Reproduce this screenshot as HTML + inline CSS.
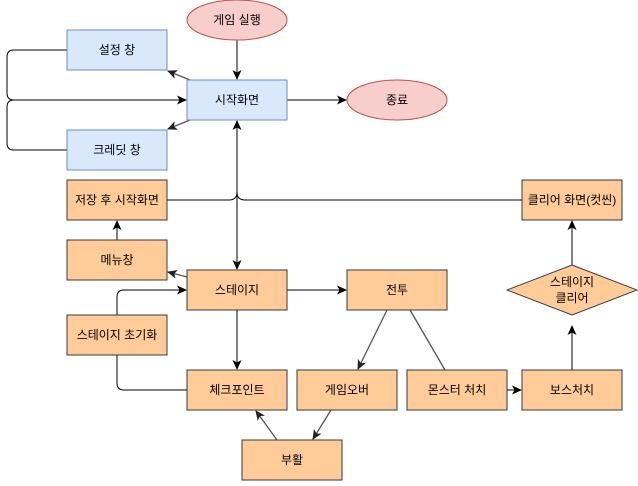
<!DOCTYPE html>
<html><head><meta charset="utf-8"><style>
body{margin:0;background:#fff}
text{font-family:"Liberation Sans","Noto Sans CJK KR",sans-serif;font-size:12px;fill:#000;text-anchor:middle;dominant-baseline:central}
</style></head><body>
<svg width="638" height="481" viewBox="0 0 638 481" xmlns="http://www.w3.org/2000/svg">
<defs>
<marker id="a" markerWidth="12" markerHeight="12" refX="10" refY="6" orient="auto" markerUnits="userSpaceOnUse"><path d="M1,1.5 L11,6 L1,10.5 L3.5,6z" fill="#000"/></marker>
<marker id="g" markerWidth="12" markerHeight="12" refX="10" refY="6" orient="auto" markerUnits="userSpaceOnUse"><path d="M1,1.5 L11,6 L1,10.5 L3.5,6z" fill="#222"/></marker>
</defs>
<g fill="none" stroke="#000" stroke-width="1">
<path d="M237,40 V79" marker-end="url(#a)"/>
<path d="M287,100 H346" marker-end="url(#a)"/>
<path d="M67,50 H14 Q7,50 7,57 V93 Q7,100 14,100 H186" marker-end="url(#a)"/>
<path d="M67,150 H14 Q7,150 7,143 V107 Q7,100 14,100"/>
<path d="M237,200 V121" marker-end="url(#a)"/>
<path d="M237,200 V269" marker-end="url(#a)"/>
<path d="M167,200 H229 Q237,200 237,192 Q237,200 245,200 H522"/>
<path d="M117,240 V221" marker-end="url(#a)"/>
<path d="M237,310 V369" marker-end="url(#a)"/>
<path d="M287,290 H346" marker-end="url(#a)"/>
<path d="M187,390 H124 Q117,390 117,383 V355"/>
<path d="M117,315 V297 Q117,290 124,290 H186" marker-end="url(#a)"/>
<path d="M507,390 H521" marker-end="url(#a)"/>
<path d="M572,370 V326" marker-end="url(#a)"/>
<path d="M572,265 V221" marker-end="url(#a)"/>
</g>
<g fill="none" stroke="#555" stroke-width="1.3">
<path d="M190,80 L168,71" marker-end="url(#g)"/>
<path d="M190,120 L168,129" marker-end="url(#g)"/>
<path d="M187,277 L168,272" marker-end="url(#g)"/>
<path d="M387,310 L358,369" marker-end="url(#g)"/>
<path d="M410,310 L445,370"/>
<path d="M331,410 L313,439" marker-end="url(#g)"/>
<path d="M277,440 L256,411" marker-end="url(#g)"/>
</g>
<g stroke-width="1">
<ellipse cx="237" cy="20" rx="50" ry="20" fill="#f8cecc" stroke="#b85450"/>
<ellipse cx="397" cy="100" rx="50" ry="20" fill="#f8cecc" stroke="#b85450"/>
<g fill="#dae8fc" stroke="#6c8ebf">
<rect x="67" y="30" width="100" height="40"/>
<rect x="187" y="80" width="100" height="40"/>
<rect x="67" y="130" width="100" height="40"/>
</g>
<g fill="#ffcc99" stroke="#36393d">
<rect x="67" y="180" width="100" height="40"/>
<rect x="522" y="180" width="100" height="40"/>
<rect x="67" y="240" width="100" height="40"/>
<rect x="187" y="270" width="100" height="40"/>
<rect x="347" y="270" width="100" height="40"/>
<rect x="67" y="315" width="100" height="40"/>
<rect x="187" y="370" width="100" height="40"/>
<rect x="297" y="370" width="100" height="40"/>
<rect x="407" y="370" width="100" height="40"/>
<rect x="522" y="370" width="100" height="40"/>
<rect x="242" y="440" width="100" height="40"/>
<path d="M572,265 L637,290 L572,315 L507,290z"/>
</g>
</g>
<text x="237" y="20">게임 실행</text>
<text x="397" y="100">종료</text>
<text x="117" y="50">설정 창</text>
<text x="237" y="100">시작화면</text>
<text x="117" y="150">크레딧 창</text>
<text x="117" y="200">저장 후 시작화면</text>
<text x="572" y="200">클리어 화면(컷씬)</text>
<text x="117" y="260">메뉴창</text>
<text x="237" y="290">스테이지</text>
<text x="397" y="290">전투</text>
<text x="572" y="282">스테이지</text>
<text x="572" y="298">클리어</text>
<text x="117" y="335">스테이지 초기화</text>
<text x="237" y="390">체크포인트</text>
<text x="347" y="390">게임오버</text>
<text x="457" y="390">몬스터 처치</text>
<text x="572" y="390">보스처치</text>
<text x="292" y="460">부활</text>
</svg>
</body></html>
